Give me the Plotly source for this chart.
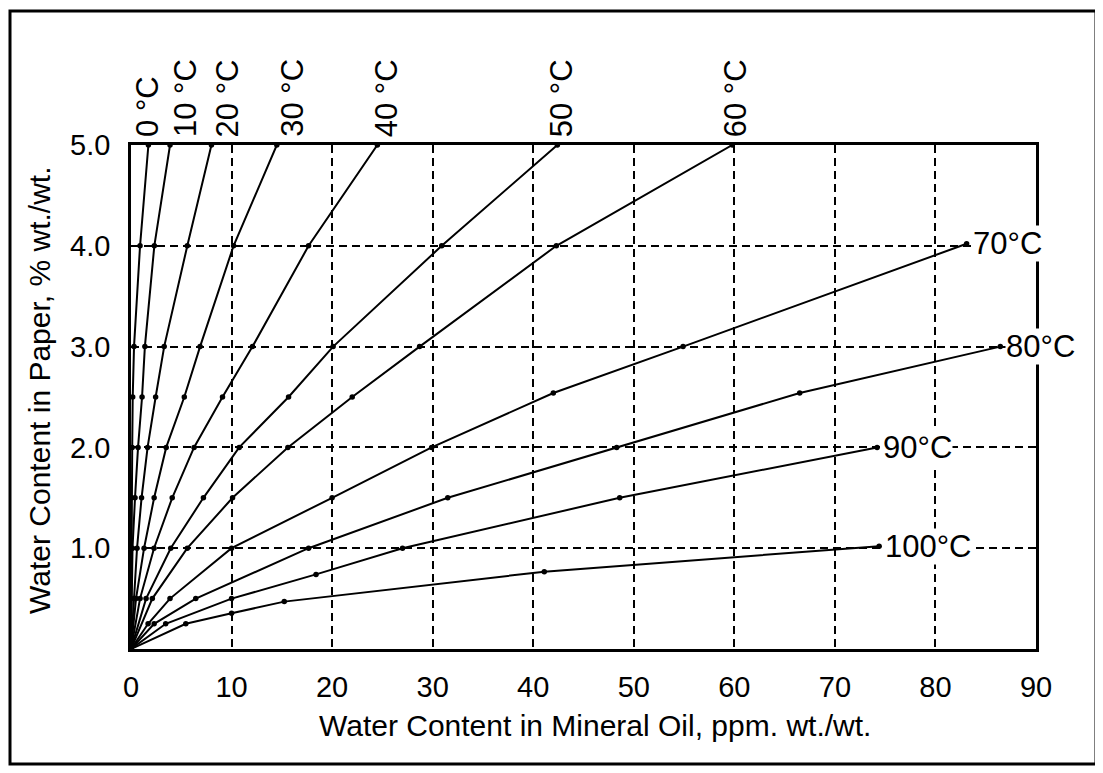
import plotly.graph_objects as go

# ---- data (x = water in oil, ppm; y = water in paper, %) ----
x_0C = [0, 0.03, 0.07, 0.12, 0.17, 0.30, 0.90, 1.73]
y_0C = [0, 1.0, 1.5, 2.0, 2.5, 3.0, 4.0, 5.0]
x_10C = [0, 0.15, 0.40, 0.70, 1.10, 1.38, 2.32, 3.88]
y_10C = [0, 1.0, 1.5, 2.0, 2.5, 3.0, 4.0, 5.0]
x_20C = [0, 0.28, 0.60, 1.05, 1.65, 2.45, 3.30, 5.60, 8.00]
y_20C = [0, 0.5, 1.0, 1.5, 2.0, 2.5, 3.0, 4.0, 5.0]
x_30C = [0, 0.50, 1.30, 2.30, 3.50, 5.30, 6.87, 10.20, 14.50]
y_30C = [0, 0.5, 1.0, 1.5, 2.0, 2.5, 3.0, 4.0, 5.0]
x_40C = [0, 0.90, 2.29, 4.10, 6.27, 9.10, 12.08, 17.66, 24.50]
y_40C = [0, 0.5, 1.0, 1.5, 2.0, 2.5, 3.0, 4.0, 5.0]
x_50C = [0, 1.50, 3.95, 7.20, 10.76, 15.67, 20.10, 30.90, 42.40]
y_50C = [0, 0.5, 1.0, 1.5, 2.0, 2.5, 3.0, 4.0, 5.0]
x_60C = [0, 2.12, 5.60, 10.10, 15.60, 22.00, 28.70, 42.30, 59.80]
y_60C = [0, 0.5, 1.0, 1.5, 2.0, 2.5, 3.0, 4.0, 5.0]
x_70C = [0, 1.70, 3.88, 10.0, 20.0, 29.9, 42.0, 54.9, 83.1]
y_70C = [0, 0.25, 0.5, 1.0, 1.5, 2.0, 2.54, 3.0, 4.02]
x_80C = [0, 2.30, 6.44, 17.66, 31.5, 48.3, 66.5, 86.45]
y_80C = [0, 0.25, 0.5, 1.0, 1.5, 2.0, 2.54, 3.0]
x_90C = [0, 3.45, 10.0, 18.4, 27.0, 48.6, 74.2]
y_90C = [0, 0.25, 0.5, 0.74, 1.0, 1.5, 2.0]
x_100C = [0, 5.45, 10.0, 15.24, 41.1, 74.4]
y_100C = [0, 0.25, 0.354, 0.47, 0.767, 1.02]

top_labels = ["0 °C", "10 °C", "20 °C", "30 °C", "40 °C", "50 °C", "60 °C"]
top_series = [(x_0C, y_0C), (x_10C, y_10C), (x_20C, y_20C), (x_30C, y_30C),
              (x_40C, y_40C), (x_50C, y_50C), (x_60C, y_60C)]
top_xshift = [-1, 15, 16, 15, 9, 4, 3]

right_labels = ["70°C", "80°C", "90°C", "100°C"]
right_series = [(x_70C, y_70C), (x_80C, y_80C), (x_90C, y_90C), (x_100C, y_100C)]

x_ticks = [0, 10, 20, 30, 40, 50, 60, 70, 80, 90]
y_ticks = [1, 2, 3, 4, 5]
y_ticklabels = ["1.0", "2.0", "3.0", "4.0", "5.0"]

FONT = "Liberation Sans, Arial, Helvetica, sans-serif"

fig = go.Figure()
for xs, ys in top_series + right_series:
    fig.add_trace(go.Scatter(
        x=xs, y=ys, mode="lines+markers",
        line=dict(color="black", width=2),
        marker=dict(color="black", size=5.5),
        showlegend=False, hoverinfo="skip", cliponaxis=False,
    ))

annotations = []
for lab, (xs, ys), dx in zip(top_labels, top_series, top_xshift):
    annotations.append(dict(
        x=xs[-1], y=ys[-1], xref="x", yref="y", text=lab, showarrow=False,
        textangle=-90, xanchor="center", yanchor="bottom", xshift=dx, yshift=6,
        font=dict(family=FONT, size=31, color="black"),
    ))
for lab, (xs, ys) in zip(right_labels, right_series):
    annotations.append(dict(
        x=xs[-1], y=ys[-1], xref="x", yref="y", text=lab, showarrow=False,
        xanchor="left", yanchor="middle", xshift=5,
        bgcolor="white", borderpad=0,
        font=dict(family=FONT, size=31, color="black"),
    ))
annotations.append(dict(
    x=0.513, y=-0.151, xref="paper", yref="paper", showarrow=False,
    text="Water Content in Mineral Oil, ppm. wt./wt.",
    xanchor="center", yanchor="middle",
    font=dict(family=FONT, size=30, color="black"),
))
annotations.append(dict(
    x=-0.1006, y=0.514, xref="paper", yref="paper", showarrow=False,
    text="Water Content in Paper, % wt./wt.", textangle=-90,
    xanchor="center", yanchor="middle",
    font=dict(family=FONT, size=30, color="black"),
))

fig.update_layout(
    width=1103, height=773,
    margin=dict(l=123, r=75, t=137, b=132),
    paper_bgcolor="white", plot_bgcolor="white",
    annotations=annotations,
    shapes=[dict(type="rect", xref="paper", yref="paper",
                 x0=-0.1337, x1=1.0663, y0=-0.228, y1=1.266,
                 line=dict(color="black", width=3))],
    font=dict(family=FONT, size=28, color="black"),
)
fig.update_xaxes(
    range=[0, 90], tickvals=x_ticks, ticks="", ticklabelstandoff=10,
    showgrid=True, gridcolor="black", gridwidth=1.5, griddash="8px,5px",
    zeroline=False, showline=True, linecolor="black", linewidth=2.5, mirror=True,
    tickfont=dict(family=FONT, size=29, color="black"),
)
fig.update_yaxes(
    range=[0, 5], tickvals=y_ticks, ticktext=y_ticklabels, ticks="", ticklabelstandoff=12,
    showgrid=True, gridcolor="black", gridwidth=1.5, griddash="8px,5px",
    zeroline=False, showline=True, linecolor="black", linewidth=2.5, mirror=True,
    tickfont=dict(family=FONT, size=29, color="black"),
)

fig.write_html("out.html")
